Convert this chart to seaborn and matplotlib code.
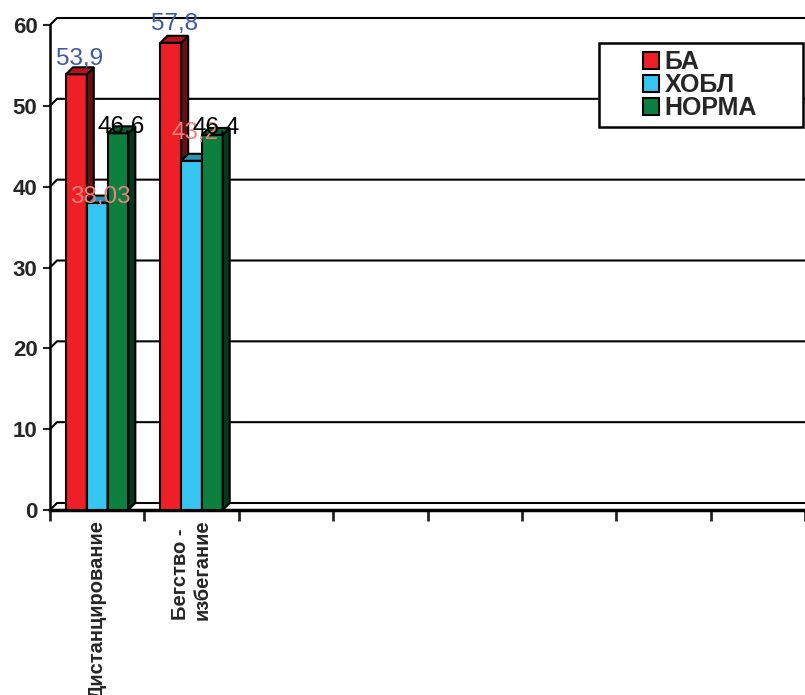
import numpy as np
import pandas as pd
import matplotlib
matplotlib.use("Agg")
import matplotlib.pyplot as plt
import seaborn as sns
from matplotlib.patches import Polygon, Rectangle, Patch
from matplotlib.colors import to_rgb

# данные
categories = ["Дистанцирование", "Бегство -\nизбегание"]
groups = ["БА", "ХОБЛ", "НОРМА"]
ba = [53.9, 57.8]
hobl = [38.03, 43.2]
norma = [46.6, 46.4]
value_labels = [["53,9", "57,8"], ["38,03", "43,2"], ["46.6", "46.4"]]
y_ticks = [0, 10, 20, 30, 40, 50, 60]
n_slots = 8

# оформление
bar_colors = ["#ee1f26", "#35c5f0", "#0d7f3f"]
label_colors = ["#3d58a8", "#ef8080", "black"]
label_offsets = [[15, 19], [6, 28], [6, 7]]   # px над верхом столбца

sns.set_style("white")
plt.rcParams["font.family"] = ["Liberation Sans", "DejaVu Sans"]

fig = plt.figure(figsize=(8.05, 6.95), dpi=100)
ax = fig.add_axes([50 / 805, 1 - 510 / 695, 755 / 805, 485 / 695])

df = pd.DataFrame({
    "category": categories * 3,
    "group": np.repeat(groups, len(categories)),
    "value": ba + hobl + norma,
})

sns.barplot(data=df, x="category", y="value", hue="group", order=categories,
            hue_order=groups, palette=bar_colors, width=0.66, saturation=1,
            edgecolor="black", linewidth=1.5, errorbar=None, legend=False, ax=ax)

ax.set_xlim(-0.5, n_slots - 0.5)
ax.set_ylim(0, 60)

# 3D глубина: пиксели -> единицы данных
depth = 7
dx = depth / (755 / n_slots)
dy = depth / (485 / 60)

def shade(c, f):
    r, g, b = to_rgb(c)
    return (r * f, g * f, b * f)

# задняя стенка: сетка и пол
for t in y_ticks:
    ax.plot([-0.5, -0.5 + dx, n_slots], [t, t + dy, t + dy], color="black",
            lw=1.5, clip_on=False, zorder=1)

for gi, cont in enumerate(ax.containers):
    z = 3 + gi
    for ci, p in enumerate(cont.patches):
        p.set_zorder(z)
        x0, w, h = p.get_x(), p.get_width(), p.get_height()
        x1 = x0 + w
        side = Polygon([(x1, 0), (x1 + dx, dy), (x1 + dx, h + dy), (x1, h)],
                       closed=True, facecolor=shade(bar_colors[gi], 0.45),
                       edgecolor="black", lw=1.5, zorder=z, clip_on=False)
        top = Polygon([(x0, h), (x0 + dx, h + dy), (x1 + dx, h + dy), (x1, h)],
                      closed=True, facecolor=shade(bar_colors[gi], 0.75),
                      edgecolor="black", lw=1.5, zorder=z, clip_on=False)
        ax.add_patch(side)
        ax.add_patch(top)
        ax.annotate(value_labels[gi][ci], (x0 + w / 2 + dx / 2, h),
                    xytext=(0, label_offsets[gi][ci] * 0.72), textcoords="offset points",
                    ha="center", va="center", fontsize=17.5,
                    color=label_colors[gi], zorder=10, annotation_clip=False)

# оси
for s in ["top", "right"]:
    ax.spines[s].set_visible(False)
ax.spines["left"].set_linewidth(1.8)
ax.spines["bottom"].set_linewidth(2.5)
ax.spines["left"].set_color("black")
ax.spines["bottom"].set_color("black")

ax.set_yticks(y_ticks)
ax.tick_params(axis="y", direction="out", length=5, width=1.5, pad=4,
               labelsize=16, left=True)
for lbl in ax.get_yticklabels():
    lbl.set_fontweight("bold")

ax.set_xticks(range(len(categories)))
ax.set_xticklabels(categories, rotation=90, va="top", ha="center",
                   multialignment="left", fontsize=14.5, fontweight="bold")
ax.tick_params(axis="x", which="major", length=0, pad=7)
ax.set_xticks(np.arange(-0.5, n_slots, 1), minor=True)
ax.tick_params(axis="x", which="minor", direction="out", length=8, width=2,
               bottom=True)
ax.set_xlabel("")
ax.set_ylabel("")

# легенда
fig.patches.append(Rectangle((599 / 805, 1 - 127 / 695), 204 / 805, 84 / 695,
                             transform=fig.transFigure, facecolor="white",
                             edgecolor="black", lw=1.8, zorder=5))
handles = [Patch(facecolor=c, edgecolor="black", lw=1.5) for c in bar_colors]
leg = fig.legend(handles, groups, loc="center",
                 bbox_to_anchor=(700 / 805, 1 - 85 / 695), frameon=False,
                 prop={"size": 18, "weight": "bold"}, handlelength=0.65,
                 handleheight=0.65, handletextpad=0.2, labelspacing=-0.04,
                 borderpad=0)
leg.set_zorder(6)

fig.savefig("out.png", dpi=100)
